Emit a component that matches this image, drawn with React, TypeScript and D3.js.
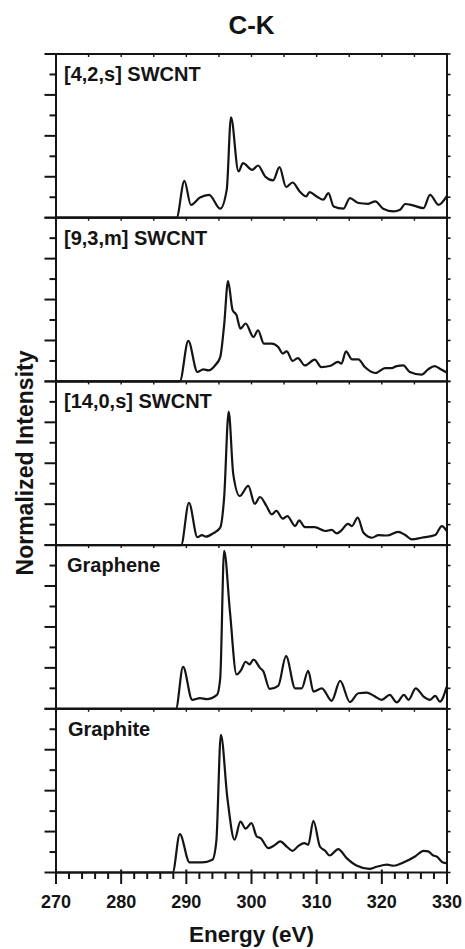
import React from "react";
import * as d3 from "d3";

// ---------- data ----------
const title = "C-K";
const xLabel = "Energy (eV)";
const yLabel = "Normalized Intensity";
const xTickValues = [270, 280, 290, 300, 310, 320, 330];
const panelLabels = ["[4,2,s] SWCNT", "[9,3,m] SWCNT", "[14,0,s] SWCNT", "Graphene", "Graphite"];

const swcnt42Energy = [270, 288.5, 289.7, 290.7, 292.1, 293.5, 295.2, 296.2, 296.85, 298.0, 298.7, 300.1, 301.0, 302.1, 303.3, 304.3, 305.3, 306.3, 307.4, 308.4, 308.9, 310.0, 311.0, 311.8, 312.6, 314.1, 315.1, 316.4, 317.9, 319.0, 320.2, 321.8, 322.8, 323.6, 324.8, 326.4, 327.4, 328.7, 329.95];
const swcnt42Intensity = [0, 0, 1.8, 0.63, 0.99, 1.12, 0.44, 1.37, 4.91, 2.26, 2.67, 2.34, 2.55, 2.01, 1.82, 2.47, 1.5, 1.72, 1.28, 1.04, 1.25, 1.04, 0.88, 1.2, 0.55, 0.44, 0.96, 0.72, 0.68, 0.8, 0.44, 0.31, 0.39, 0.67, 0.6, 0.47, 1.12, 0.63, 1.04];

const swcnt93Energy = [270, 289.0, 290.3, 291.7, 292.6, 293.4, 294.4, 295.2, 295.8, 296.4, 297.1, 297.7, 298.3, 299.1, 300.3, 301.0, 301.9, 303.1, 304.1, 304.8, 305.4, 306.3, 307.1, 308.2, 309.7, 310.7, 312.0, 313.3, 313.8, 314.5, 315.4, 316.4, 317.4, 319.0, 320.5, 321.5, 322.3, 323.3, 324.3, 326.1, 327.1, 328.1, 328.9, 329.95];
const swcnt93Intensity = [0, 0, 1.98, 0.46, 0.59, 0.54, 0.78, 1.19, 2.75, 4.9, 3.48, 3.24, 2.58, 2.83, 2.17, 2.5, 1.85, 1.85, 1.68, 1.36, 1.47, 1.0, 1.14, 0.78, 1.06, 0.7, 0.75, 0.95, 0.87, 1.47, 1.08, 1.08, 0.7, 0.41, 0.65, 0.65, 0.75, 0.78, 0.46, 0.33, 0.59, 0.75, 0.62, 0.43];

const swcnt140Energy = [270, 289.2, 290.4, 291.7, 292.4, 293.0, 294.1, 295.2, 295.8, 296.5, 297.2, 298.2, 299.5, 300.5, 301.3, 302.3, 303.1, 303.8, 304.8, 305.5, 306.7, 307.3, 308.2, 309.7, 311.3, 312.3, 313.1, 313.8, 314.8, 315.4, 316.3, 317.2, 318.5, 319.5, 320.8, 322.5, 323.6, 324.6, 326.1, 328.2, 329.2, 329.95];
const swcnt140Intensity = [0, 0, 2.07, 0.39, 0.49, 0.41, 0.57, 0.85, 2.32, 6.52, 3.47, 2.4, 2.89, 2.02, 2.35, 1.91, 1.5, 1.67, 1.29, 1.42, 0.93, 1.21, 0.88, 0.88, 0.69, 0.74, 0.57, 0.72, 1.04, 0.93, 1.34, 0.6, 0.36, 0.49, 0.47, 0.65, 0.49, 0.28, 0.36, 0.49, 0.93, 0.69];

const grapheneEnergy = [270, 288.4, 289.5, 290.9, 292.1, 293.1, 294.7, 295.2, 295.8, 296.7, 297.7, 298.4, 299.1, 299.7, 300.3, 301.3, 301.8, 302.8, 304.1, 305.3, 306.7, 307.7, 308.7, 309.5, 310.8, 312.3, 313.6, 315.1, 316.4, 317.7, 318.7, 320.0, 321.2, 322.3, 323.4, 324.1, 325.2, 326.4, 327.4, 328.2, 328.9, 329.95];
const grapheneIntensity = [0, 0, 2.05, 0.44, 0.52, 0.47, 0.68, 1.49, 7.72, 4.72, 1.68, 1.89, 2.3, 2.17, 2.41, 2.0, 1.84, 0.97, 1.12, 2.57, 1.0, 1.0, 1.86, 0.84, 1.0, 0.39, 1.36, 0.33, 0.76, 0.79, 0.65, 0.44, 0.68, 0.31, 0.68, 0.44, 1.0, 0.6, 0.44, 0.63, 0.35, 1.08];

const graphiteEnergy = [270, 287.9, 289.0, 290.5, 292.4, 294.0, 294.6, 295.3, 296.3, 297.4, 298.3, 299.1, 300.0, 300.8, 301.4, 302.6, 303.6, 304.4, 305.4, 306.3, 307.2, 308.1, 308.7, 309.5, 310.5, 311.3, 312.0, 313.3, 314.6, 316.1, 318.1, 319.2, 320.8, 321.8, 323.3, 325.1, 326.4, 327.1, 327.9, 328.4, 329.4, 329.95];
const graphiteIntensity = [0, 0, 1.88, 0.49, 0.49, 0.62, 1.52, 6.73, 3.64, 1.6, 2.49, 2.14, 2.41, 1.76, 1.68, 1.19, 1.35, 1.52, 1.27, 1.06, 1.3, 1.44, 1.35, 2.53, 1.27, 1.06, 0.83, 1.14, 0.7, 0.34, 0.18, 0.28, 0.38, 0.33, 0.49, 0.78, 1.06, 1.03, 0.83, 0.78, 0.49, 0.46];

const panelEnergies = [swcnt42Energy, swcnt93Energy, swcnt140Energy, grapheneEnergy, graphiteEnergy];
const panelIntensities = [swcnt42Intensity, swcnt93Intensity, swcnt140Intensity, grapheneIntensity, graphiteIntensity];

// ---------- layout ----------
const W = 465;
const H = 949;
const left = 56;
const right = 447;
const top0 = 54;
const panelH = 163.7;
const labelDx = [64, 64, 64, 67, 68];
const ink = "#141414";
const font = "'Liberation Sans', Arial, Helvetica, sans-serif";

export default function App() {
  const x = d3.scaleLinear().domain([270, 330]).range([left, right]);
  const minorX = d3.range(270, 331, 2).filter((v) => v % 10 !== 0);
  const topTicksX = d3.range(275, 330, 5);
  const nPanels = panelLabels.length;
  const bottomY = top0 + panelH * nPanels;

  return (
    <svg width={W} height={H} style={{ position: "absolute", left: 0, top: 0 }} fontFamily={font}>
      <rect width={W} height={H} fill="#fff" />
      <text x={(left + right) / 2} y={34} textAnchor="middle" fontSize={26} fontWeight="bold" fill={ink}>
        {title}
      </text>
      {panelLabels.map((label, i) => {
        const pTop = top0 + i * panelH;
        const pBot = pTop + panelH;
        const y = d3.scaleLinear().domain([0, 8]).range([pBot, pTop]);
        const line = d3
          .line<number>()
          .x((_, k) => x(panelEnergies[i][k]))
          .y((d) => y(d))
          .curve(d3.curveMonotoneX);
        const yTicks = d3.range(0, 9);
        return (
          <g key={label}>
            {/* left ticks */}
            {yTicks.map((t) => (
              <line
                key={"l" + t}
                x1={left - (t % 2 === 0 ? 11.5 : 6.5)}
                x2={left}
                y1={y(t)}
                y2={y(t)}
                stroke={ink}
                strokeWidth={2}
              />
            ))}
            {/* right ticks */}
            {yTicks.map((t) => (
              <line key={"r" + t} x1={right} x2={right + 3.5} y1={y(t)} y2={y(t)} stroke={ink} strokeWidth={1.6} />
            ))}
            {/* top inward ticks */}
            {topTicksX.map((v) => (
              <line key={"t" + v} x1={x(v)} x2={x(v)} y1={pTop} y2={pTop + 3} stroke={ink} strokeWidth={1.4} />
            ))}
            <rect x={left} y={pTop} width={right - left} height={panelH} fill="none" stroke={ink} strokeWidth={2} />
            <path d={line(panelIntensities[i]) || ""} fill="none" stroke={ink} strokeWidth={2.2} strokeLinejoin="round" />
            <text x={labelDx[i]} y={pTop + 27} fontSize={20} fontWeight="bold" fill={ink}>
              {label}
            </text>
          </g>
        );
      })}
      {/* bottom axis */}
      {xTickValues.map((v) => (
        <g key={"x" + v}>
          <line x1={x(v)} x2={x(v)} y1={bottomY - 3} y2={bottomY + 11.5} stroke={ink} strokeWidth={2} />
          <text x={x(v)} y={bottomY + 35} textAnchor="middle" fontSize={18} fontWeight="bold" fill={ink}>
            {v}
          </text>
        </g>
      ))}
      {minorX.map((v) => (
        <line key={"m" + v} x1={x(v)} x2={x(v)} y1={bottomY} y2={bottomY + 6.5} stroke={ink} strokeWidth={2} />
      ))}
      <text x={(left + right) / 2} y={942} textAnchor="middle" fontSize={22.5} fontWeight="bold" fill={ink}>
        {xLabel}
      </text>
      <text
        transform={`translate(33,463) rotate(-90)`}
        textAnchor="middle"
        fontSize={23}
        fontWeight="bold"
        fill={ink}
      >
        {yLabel}
      </text>
    </svg>
  );
}
